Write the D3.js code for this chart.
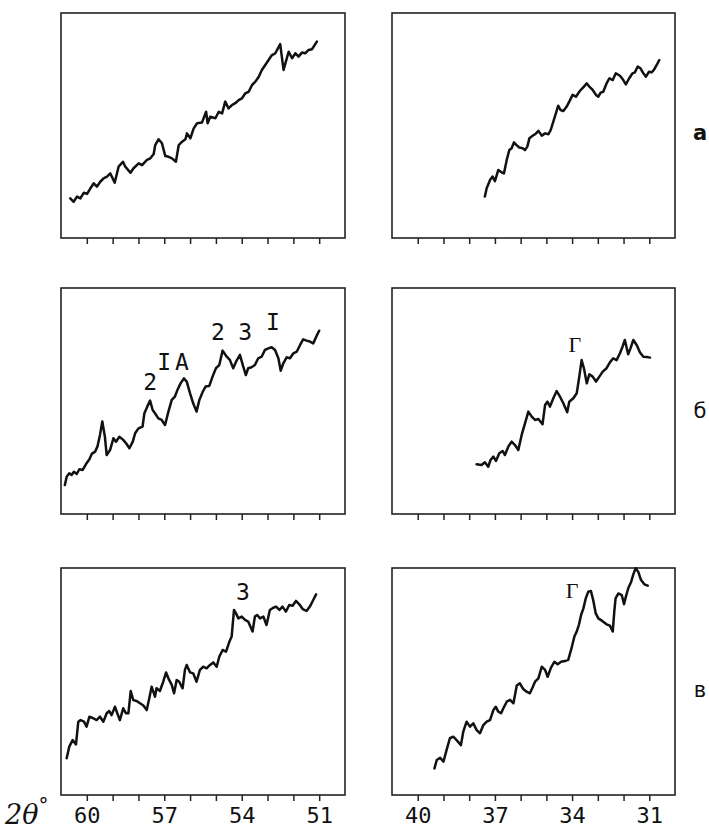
<!DOCTYPE html>
<html lang="ru">

<head>
  <meta charset="UTF-8">
  <title>Дифрактограммы</title>
  <style>
    body { margin: 0; background: #fff; }
  </style>
</head>

<body>
  <svg></svg>
  <script src="https://cdn.jsdelivr.net/npm/d3@7"></script>
  <script>
    // 2θ, intensity (arb. units, 0..100 of the frame height)
    var scanA1 = [[60.64,17.6],[60.51,16.1],[60.38,18.4],[60.25,17.6],[60.12,20.1],[59.99,19.6],[59.86,22.1],[59.73,24.3],[59.61,22.8],[59.48,25.0],[59.35,26.5],[59.22,27.3],[59.09,28.7],[58.92,24.6],[58.77,31.7],[58.60,33.9],[58.51,31.7],[58.31,29.0],[58.19,31.0],[57.99,33.2],[57.86,32.4],[57.67,34.7],[57.54,35.4],[57.41,37.3],[57.35,41.3],[57.22,43.9],[57.09,42.1],[56.96,36.4],[56.83,36.1],[56.70,35.4],[56.55,33.9],[56.44,41.3],[56.31,42.8],[56.18,43.9],[56.12,46.5],[55.99,44.3],[55.86,48.7],[55.73,51.0],[55.54,51.3],[55.38,56.1],[55.32,51.0],[55.22,53.9],[55.02,53.2],[54.89,56.1],[54.76,55.4],[54.64,60.6],[54.51,57.6],[54.38,59.1],[54.25,59.9],[54.12,61.3],[53.99,62.1],[53.86,64.3],[53.73,65.0],[53.60,68.0],[53.47,69.5],[53.34,71.7],[53.22,74.7],[53.09,76.9],[52.96,79.1],[52.83,81.3],[52.70,82.1],[52.51,86.2],[52.38,74.7],[52.29,78.4],[52.18,82.8],[52.05,79.9],[51.92,82.1],[51.80,80.6],[51.67,82.4],[51.54,82.1],[51.41,83.6],[51.28,83.9],[51.09,87.3]];

    var scanA2 = [[37.39,18.4],[37.32,22.1],[37.19,25.8],[37.09,27.3],[37.00,25.3],[36.87,30.2],[36.74,29.2],[36.65,28.7],[36.54,34.7],[36.44,39.1],[36.35,39.9],[36.26,42.5],[36.16,41.3],[36.05,40.2],[35.92,39.9],[35.83,39.1],[35.74,40.6],[35.66,44.3],[35.53,45.5],[35.44,46.1],[35.31,47.6],[35.18,45.5],[35.05,46.5],[34.92,46.1],[34.83,48.0],[34.73,51.7],[34.63,55.4],[34.54,58.8],[34.45,56.9],[34.34,56.4],[34.21,58.4],[34.08,61.3],[33.98,63.6],[33.85,62.8],[33.72,65.0],[33.63,66.2],[33.54,67.3],[33.43,68.7],[33.33,67.3],[33.20,65.8],[33.07,63.6],[32.98,62.8],[32.89,64.6],[32.79,65.0],[32.66,68.7],[32.55,71.0],[32.42,70.2],[32.30,73.2],[32.14,72.1],[32.04,70.7],[31.91,68.3],[31.78,71.0],[31.65,73.2],[31.56,73.6],[31.45,76.2],[31.34,75.4],[31.23,73.2],[31.13,71.7],[31.01,73.9],[30.91,73.6],[30.82,74.7],[30.71,76.9],[30.61,79.1]];

    var scanB1 = [[60.85,12.8],[60.78,16.5],[60.68,18.0],[60.59,17.3],[60.50,18.7],[60.39,17.7],[60.29,19.8],[60.16,19.5],[60.03,22.1],[59.90,24.2],[59.81,26.6],[59.68,27.6],[59.59,29.8],[59.49,35.0],[59.40,40.9],[59.30,34.2],[59.23,26.1],[59.10,28.3],[58.97,33.5],[58.87,32.0],[58.74,34.2],[58.59,32.8],[58.48,31.3],[58.35,29.1],[58.22,32.0],[58.13,35.7],[58.00,37.9],[57.84,38.7],[57.77,44.6],[57.66,47.5],[57.55,50.2],[57.45,46.0],[57.36,44.6],[57.23,42.3],[57.10,41.6],[56.97,39.4],[56.84,45.3],[56.71,50.5],[56.59,51.9],[56.49,54.9],[56.37,57.8],[56.24,60.0],[56.13,58.6],[56.00,53.4],[55.88,49.0],[55.75,45.3],[55.64,50.5],[55.51,54.1],[55.40,56.4],[55.26,56.6],[55.13,60.8],[55.00,64.5],[54.87,65.9],[54.74,72.3],[54.58,69.6],[54.46,68.2],[54.33,64.5],[54.22,67.4],[54.07,70.4],[53.94,65.2],[53.84,61.5],[53.75,64.5],[53.62,64.9],[53.49,65.9],[53.36,68.9],[53.23,69.6],[53.10,72.6],[52.97,73.3],[52.84,73.8],[52.71,72.6],[52.58,68.9],[52.49,63.4],[52.39,66.7],[52.26,69.3],[52.13,68.9],[52.00,71.1],[51.87,71.8],[51.74,74.8],[51.62,77.3],[51.49,76.7],[51.36,76.3],[51.23,75.5],[51.10,78.8],[51.00,81.1]];

    var scanB2 = [[37.71,22.0],[37.52,21.7],[37.39,22.9],[37.26,20.9],[37.17,23.9],[37.06,25.4],[36.96,23.5],[36.83,26.9],[36.70,27.9],[36.61,26.1],[36.48,29.8],[36.35,32.0],[36.22,30.5],[36.09,28.3],[35.96,35.0],[35.83,40.1],[35.70,45.3],[35.57,43.1],[35.44,41.6],[35.31,42.0],[35.15,39.7],[35.05,48.2],[34.96,49.7],[34.86,47.5],[34.73,51.2],[34.60,54.4],[34.47,51.9],[34.34,49.0],[34.19,45.0],[34.11,49.7],[33.95,51.2],[33.82,53.4],[33.72,60.8],[33.63,68.1],[33.54,64.5],[33.43,57.8],[33.33,61.8],[33.20,60.8],[33.07,58.6],[32.94,60.8],[32.81,63.0],[32.66,64.5],[32.53,67.1],[32.40,68.9],[32.27,68.1],[32.14,71.1],[32.04,74.0],[31.95,77.0],[31.82,70.7],[31.73,73.3],[31.62,77.0],[31.49,74.8],[31.36,71.5],[31.23,69.6],[31.10,69.5],[30.97,69.2]];

    var scanV1 = [[60.78,16.2],[60.68,21.3],[60.55,24.2],[60.42,22.3],[60.33,32.3],[60.24,33.0],[60.11,32.3],[60.01,30.1],[59.90,34.5],[59.75,33.8],[59.62,33.0],[59.49,34.5],[59.36,32.3],[59.23,36.0],[59.13,37.0],[59.04,35.2],[58.91,38.9],[58.82,36.0],[58.72,33.0],[58.59,38.2],[58.48,36.0],[58.39,36.0],[58.30,45.8],[58.20,41.8],[58.07,41.4],[57.94,40.4],[57.81,39.4],[57.68,37.4],[57.58,42.6],[57.49,47.7],[57.36,43.3],[57.30,47.0],[57.17,45.8],[57.04,49.9],[56.93,54.0],[56.84,51.4],[56.71,48.5],[56.62,44.8],[56.52,50.7],[56.42,49.9],[56.29,47.0],[56.20,55.1],[56.13,57.3],[56.00,54.0],[55.88,53.6],[55.75,49.9],[55.62,55.1],[55.49,56.5],[55.36,55.8],[55.23,57.3],[55.10,58.4],[54.97,56.5],[54.87,60.9],[54.74,63.9],[54.61,63.1],[54.48,67.5],[54.39,69.8],[54.30,81.5],[54.22,80.0],[54.13,77.8],[54.00,78.6],[53.87,77.1],[53.75,76.4],[53.58,72.0],[53.49,78.6],[53.40,79.3],[53.29,77.8],[53.16,78.6],[53.04,74.9],[52.91,81.5],[52.78,82.5],[52.67,83.0],[52.54,81.5],[52.42,83.0],[52.29,80.8],[52.16,83.7],[52.03,83.4],[51.90,85.5],[51.77,84.0],[51.64,81.9],[51.49,81.1],[51.36,83.0],[51.23,85.9],[51.12,88.4]];

    var scanV2 = [[39.35,11.7],[39.26,15.4],[39.13,16.4],[39.00,14.7],[38.88,19.8],[38.75,25.0],[38.62,25.7],[38.49,24.2],[38.32,22.0],[38.23,27.9],[38.10,32.3],[37.97,30.1],[37.84,31.6],[37.71,28.6],[37.58,27.2],[37.45,30.8],[37.32,32.3],[37.19,33.0],[37.06,37.4],[36.97,38.9],[36.87,36.7],[36.76,36.0],[36.67,38.2],[36.54,41.1],[36.41,41.9],[36.28,40.4],[36.15,48.2],[36.03,49.2],[35.90,46.7],[35.77,45.5],[35.64,44.8],[35.55,47.0],[35.44,49.9],[35.31,51.4],[35.18,56.5],[35.05,55.1],[34.95,52.1],[34.82,56.1],[34.69,58.7],[34.56,57.6],[34.43,58.7],[34.28,59.0],[34.15,59.5],[34.04,63.9],[33.91,69.8],[33.82,72.0],[33.73,75.2],[33.65,79.3],[33.56,82.2],[33.47,86.6],[33.37,89.6],[33.27,89.9],[33.18,85.9],[33.08,80.0],[32.98,77.8],[32.83,76.7],[32.66,75.2],[32.53,74.6],[32.42,72.0],[32.36,80.8],[32.31,86.6],[32.20,88.8],[32.07,88.1],[31.98,84.0],[31.91,87.4],[31.81,91.3],[31.71,93.7],[31.62,97.2],[31.53,99.9],[31.43,98.4],[31.32,94.7],[31.19,92.8],[31.06,92.2]];

    // peak marks: [label, 2θ, intensity]
    var marksB1 = [["2", 57.55, 54.9], ["IA", 56.58, 63.7], ["2", 54.92, 77.0], ["3", 53.87, 77.0], ["I", 52.79, 81.4]];
    var marksB2 = [["Г", 33.89, 71.7]];
    var marksV1 = [["3", 53.95, 85.9]];
    var marksV2 = [["Г", 34.0, 86.8]];

    var leftTicks = [60, 59, 58, 57, 56, 55, 54, 53, 52, 51];
    var leftTickLabels = [60, 57, 54, 51];
    var rightTicks = [40, 39, 38, 37, 36, 35, 34, 33, 32, 31];
    var rightTickLabels = [40, 37, 34, 31];
    var rowNames = ["а", "б", "в"];

    var svg = d3.select("svg")
      .attr("width", 709)
      .attr("height", 836)
      .style("font-family", "'DejaVu Sans Mono', monospace");

    // угол 2θ идёт справа налево
    var xLeft = d3.scaleLinear().domain([61, 50]).range([61, 345]);
    var xRight = d3.scaleLinear().domain([41, 30]).range([392, 675]);

    var rows = [
      { top: 13, bottom: 238, left: scanA1, right: scanA2, lm: [], rm: [] },
      { top: 288, bottom: 514, left: scanB1, right: scanB2, lm: marksB1, rm: marksB2 },
      { top: 568, bottom: 795, left: scanV1, right: scanV2, lm: marksV1, rm: marksV2 }
    ];

    function panel(x, y, data, marks, ticks, labels, last, serifMarks) {
      var g = svg.append("g");
      var x0 = x.range()[0], x1 = x.range()[1];
      var y0 = y.range()[1], y1 = y.range()[0];

      g.append("rect")
        .attr("x", x0).attr("y", y0)
        .attr("width", x1 - x0).attr("height", y1 - y0)
        .attr("fill", "none")
        .attr("stroke", "#222")
        .attr("stroke-width", 1.6);

      var axis = d3.axisBottom(x)
        .tickValues(ticks)
        .tickSize(6)
        .tickPadding(6)
        .tickFormat(function (d) {
          return last && labels.indexOf(d) >= 0 ? d : "";
        });
      var ax = g.append("g")
        .attr("transform", "translate(0," + y1 + ")")
        .call(axis);
      ax.select(".domain").remove();
      ax.selectAll("line").attr("stroke", "#222").attr("stroke-width", 1.5);
      ax.selectAll("text")
        .attr("font-family", "'DejaVu Sans Mono', monospace")
        .attr("font-size", 22)
        .attr("fill", "#111");

      var line = d3.line()
        .x(function (d) { return x(d[0]); })
        .y(function (d) { return y(d[1]); });

      g.append("path")
        .datum(data)
        .attr("d", line)
        .attr("fill", "none")
        .attr("stroke", "#111")
        .attr("stroke-width", 2.5)
        .attr("stroke-linejoin", "round")
        .attr("stroke-linecap", "round");

      g.selectAll(".mark")
        .data(marks)
        .join("text")
        .attr("class", "mark")
        .attr("x", function (d) { return x(d[1]); })
        .attr("y", function (d) { return y(d[2]); })
        .attr("text-anchor", "middle")
        .attr("font-family", serifMarks ? "'Liberation Serif', serif" : "'DejaVu Sans Mono', monospace")
        .attr("font-size", serifMarks ? 22 : 23)
        .attr("letter-spacing", function (d) { return d[0] == "IA" ? 4 : 0; })
        .attr("fill", "#111")
        .text(function (d) { return d[0]; });
    }

    rows.forEach(function (r, i) {
      var y = d3.scaleLinear().domain([0, 100]).range([r.bottom, r.top]);
      var last = i == rows.length - 1;
      panel(xLeft, y, r.left, r.lm, leftTicks, leftTickLabels, last, false);
      panel(xRight, y, r.right, r.rm, rightTicks, rightTickLabels, last, true);

      svg.append("text")
        .attr("x", 700)
        .attr("y", [140, 418, 697][i])
        .attr("text-anchor", "middle")
        .attr("font-family", "'DejaVu Sans', sans-serif")
        .attr("font-weight", i == 0 ? "bold" : "normal")
        .attr("font-size", 21)
        .attr("fill", "#111")
        .text(rowNames[i]);
    });

    // подпись оси
    var t = svg.append("text")
      .attr("x", 5)
      .attr("y", 824)
      .attr("font-family", "'DejaVu Serif', serif")
      .attr("font-style", "italic")
      .attr("font-size", 27)
      .attr("fill", "#111")
      .text("2θ");
    t.append("tspan")
      .attr("dy", -12)
      .attr("font-size", 20)
      .text("°");
  </script>
</body>

</html>
